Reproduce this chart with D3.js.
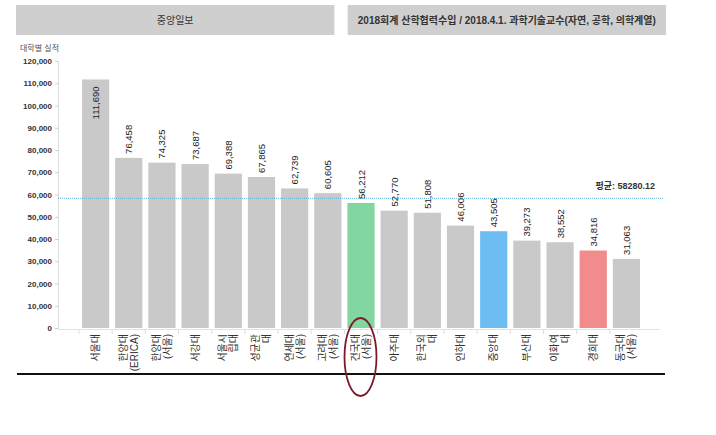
<!DOCTYPE html>
<html>
<meta charset="utf-8">
<head>
<title>대학별 실적</title>
<script src="https://d3js.org/d3.v7.min.js"></script>
<style>
body { margin: 0; background: #fff; }
text { font-family: "Liberation Sans", "Noto Sans CJK KR", Arial, sans-serif; }
</style>
</head>
<body>
<div id="plot"></div>
<script>

// data
var categories = ["서울대", "한양대\n(ERICA)", "한양대\n(서울)", "서강대", "서울시\n립대", "성균관\n대",
                  "연세대\n(서울)", "고려대\n(서울)", "건국대\n(서울)", "아주대", "한국외\n대", "인하대",
                  "중앙대", "부산대", "이화여\n대", "경희대", "동국대\n(서울)"];
var values = [111690, 76458, 74325, 73687, 69388, 67865, 62739, 60605, 56212, 52770, 51808, 46006,
              43505, 39273, 38552, 34816, 31063];
var yTicks = [0, 10000, 20000, 30000, 40000, 50000, 60000, 70000, 80000, 90000, 100000, 110000, 120000];
var average = 58280.12;
var headers = ["중앙일보", "2018회계 산학협력수입 / 2018.4.1. 과학기술교수(자연, 공학, 의학계열)"];

var width = 716, height = 435;

var highlight = { "건국대\n(서울)": "#82d7a0", "중앙대": "#6dbdf2", "경희대": "#f28b8b" };

var svg = d3.select("#plot").append("svg")
	.attr("width", width)
	.attr("height", height);

// header boxes
var headerX = d3.scaleBand().domain(headers).range([16, 666]).paddingInner(0.04);

svg.selectAll(".hdr")
	.data(headers)
	.enter()
	.append("rect")
	.attr("class", "hdr")
	.attr("x", function(d){ return headerX(d); })
	.attr("y", 5)
	.attr("width", headerX.bandwidth())
	.attr("height", 30)
	.attr("fill", "#cfcfcf");

svg.selectAll(".hdrtext")
	.data(headers)
	.enter()
	.append("text")
	.attr("x", function(d){ return headerX(d) + headerX.bandwidth() / 2; })
	.attr("y", 23.5)
	.attr("text-anchor", "middle")
	.attr("font-size", "10px")
	.attr("font-weight", function(d, i){ return i == 1 ? "bold" : "normal"; })
	.attr("fill", "#333")
	.text(function(d){ return d; });

var xScale = d3.scaleBand()
	.domain(categories)
	.range([79, 643])
	.paddingInner(0.18)
	.paddingOuter(0.09);

var yScale = d3.scaleLinear()
	.domain([0, 120000])
	.range([328, 61]);

// y axis
var yAxis = d3.axisLeft(yScale).tickValues(yTicks).tickFormat(d3.format(",")).tickSize(3);

var gy = svg.append("g")
	.attr("class", "y axis")
	.attr("transform", "translate(58,0)")
	.call(yAxis);

gy.select(".domain").attr("stroke", "#ddd");
gy.selectAll(".tick line").attr("stroke", "#ccc");
gy.selectAll(".tick text")
	.attr("font-size", "8px")
	.attr("font-weight", "bold")
	.attr("fill", "#333")
	.attr("x", -6);

svg.append("text")
	.attr("x", 20)
	.attr("y", 51)
	.attr("font-size", "8px")
	.attr("fill", "#555")
	.text("대학별 실적");

// x axis baseline and separators
svg.append("line")
	.attr("x1", 58).attr("x2", 660)
	.attr("y1", yScale(0) + 1.5).attr("y2", yScale(0) + 1.5)
	.attr("stroke", "#e2e2e2");

svg.selectAll(".sep")
	.data(categories)
	.enter()
	.append("line")
	.attr("class", "sep")
	.attr("x1", function(d){ return xScale(d) - xScale.step() * 0.09; })
	.attr("x2", function(d){ return xScale(d) - xScale.step() * 0.09; })
	.attr("y1", yScale(0) + 1.5)
	.attr("y2", yScale(0) + 6)
	.attr("stroke", "#ddd");

// bars
svg.append("g")
	.selectAll(".bar")
	.data(values)
	.enter()
	.append("rect")
	.attr("class", "bar")
	.attr("x", function(d, i){ return xScale(categories[i]); })
	.attr("width", xScale.bandwidth())
	.attr("y", function(d){ return yScale(d); })
	.attr("height", function(d){ return yScale(0) - yScale(d); })
	.attr("fill", function(d, i){ return highlight[categories[i]] || "#c9c9c9"; });

// average line
svg.append("line")
	.attr("x1", 58).attr("x2", 664)
	.attr("y1", yScale(average)).attr("y2", yScale(average))
	.attr("stroke", "#5fb3d8")
	.attr("stroke-width", 1)
	.attr("stroke-dasharray", "1,1");

svg.append("text")
	.attr("x", 655)
	.attr("y", yScale(average) - 9)
	.attr("text-anchor", "end")
	.attr("font-size", "9px")
	.attr("font-weight", "bold")
	.attr("fill", "#333")
	.text("평균: " + average.toFixed(2));

// value labels, rotated
svg.append("g")
	.selectAll(".val")
	.data(values)
	.enter()
	.append("text")
	.attr("class", "val")
	.attr("transform", function(d, i){
		var cx = xScale(categories[i]) + xScale.bandwidth() / 2 + 3.5;
		var inside = yScale(d) - 36 < yScale.range()[1];
		var yy = inside ? yScale(d) + 7 : yScale(d) - 4;
		return "translate(" + cx + "," + yy + ") rotate(-90)";
	})
	.attr("text-anchor", function(d){ return yScale(d) - 36 < yScale.range()[1] ? "end" : "start"; })
	.attr("font-size", "9.5px")
	.attr("fill", "#222")
	.text(function(d){ return d3.format(",")(d); });

// category labels, rotated
var cat = svg.append("g")
	.selectAll(".cat")
	.data(categories)
	.enter()
	.append("text")
	.attr("class", "cat")
	.attr("text-anchor", "end")
	.attr("font-size", "10px")
	.attr("fill", "#333")
	.attr("transform", function(d){
		var lines = d.split("\n").length;
		var cx = xScale(d) + xScale.bandwidth() / 2 + 3.5 - (lines - 1) * 5.5;
		return "translate(" + cx + "," + (yScale(0) + 6) + ") rotate(-90)";
	});

cat.selectAll("tspan")
	.data(function(d){ return d.split("\n"); })
	.enter()
	.append("tspan")
	.attr("x", 0)
	.attr("dy", function(d, i){ return i == 0 ? 0 : "1.1em"; })
	.text(function(d){ return d; });

// bottom rule
svg.append("line")
	.attr("x1", 17).attr("x2", 665)
	.attr("y1", 374).attr("y2", 374)
	.attr("stroke", "#111")
	.attr("stroke-width", 2);

// hand-drawn circle around 건국대
var mark = categories[8];
svg.append("ellipse")
	.attr("cx", xScale(mark) + xScale.bandwidth() / 2 - 0.5)
	.attr("cy", 357)
	.attr("rx", 16)
	.attr("ry", 39)
	.attr("fill", "none")
	.attr("stroke", "#7d1a2a")
	.attr("stroke-width", 1.8);

</script>
</body>
</html>
